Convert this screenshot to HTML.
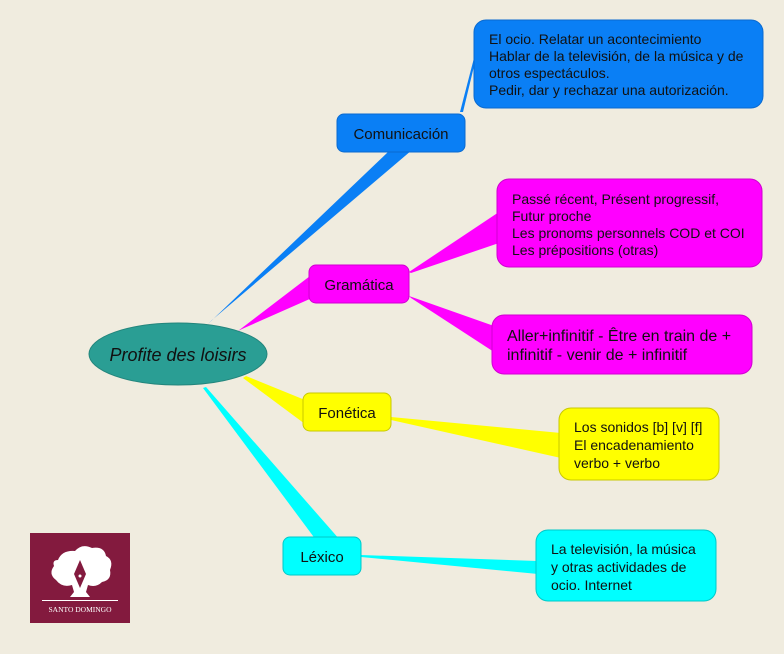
<!DOCTYPE html>
<html><head><meta charset="utf-8"><style>
html,body{margin:0;padding:0;background:#f0ecdf;}
svg{display:block;font-family:"Liberation Sans",sans-serif;}
</style></head><body>
<svg width="784" height="654" viewBox="0 0 784 654" xmlns="http://www.w3.org/2000/svg">
<rect width="784" height="654" fill="#f0ecdf"/>
<!-- connectors -->
<polygon points="208,324 212,320 412,150 388,152" fill="#0a7ff5"/>
<polygon points="460,112 463,112 476,58 474,58" fill="#0a7ff5"/>
<polygon points="238,331 242,329 312,298 310,276" fill="#ff00ff"/>
<polygon points="409,272 411,273 499,243 499,212" fill="#ff00ff"/>
<polygon points="409,296 411,298 494,352 494,326" fill="#ff00ff"/>
<polygon points="243,378 246,376 305,400 305,424" fill="#ffff00"/>
<polygon points="391,417 391,420 561,458 561,433" fill="#ffff00"/>
<polygon points="203,388 206,387 340,540 316,540" fill="#00ffff"/>
<polygon points="361,555 361,557 538,574 538,561" fill="#00ffff"/>
<!-- root -->
<ellipse cx="178" cy="354" rx="89" ry="31" fill="#2a9e94" stroke="#23857c"/>
<text x="178" y="361" text-anchor="middle" font-size="18" font-style="italic" fill="#111">Profite des loisirs</text>
<!-- main nodes -->
<rect x="337" y="114" width="128" height="38" rx="7" fill="#0a7ff5" stroke="#0a6ad0"/>
<text x="401" y="139" text-anchor="middle" font-size="15" fill="#111">Comunicación</text>
<rect x="309" y="265" width="100" height="38" rx="7" fill="#ff00ff" stroke="#d000d0"/>
<text x="359" y="290" text-anchor="middle" font-size="15" fill="#111">Gramática</text>
<rect x="303" y="393" width="88" height="38" rx="7" fill="#ffff00" stroke="#c8c800"/>
<text x="347" y="418" text-anchor="middle" font-size="15" fill="#111">Fonética</text>
<rect x="283" y="537" width="78" height="38" rx="7" fill="#00ffff" stroke="#00c8c8"/>
<text x="322" y="562" text-anchor="middle" font-size="15" fill="#111">Léxico</text>
<!-- leaves -->
<rect x="474" y="20" width="289" height="88" rx="12" fill="#0a7ff5" stroke="#0a6ad0"/>
<g font-size="14" fill="#111">
<text x="489" y="44">El ocio. Relatar un acontecimiento</text>
<text x="489" y="61">Hablar de la televisión, de la música y de</text>
<text x="489" y="78">otros espectáculos.</text>
<text x="489" y="95">Pedir, dar y rechazar una autorización.</text>
</g>
<rect x="497" y="179" width="265" height="88" rx="12" fill="#ff00ff" stroke="#d000d0"/>
<g font-size="14" fill="#111">
<text x="512" y="204">Passé récent, Présent progressif,</text>
<text x="512" y="221">Futur proche</text>
<text x="512" y="238">Les pronoms personnels COD et COI</text>
<text x="512" y="255">Les prépositions (otras)</text>
</g>
<rect x="492" y="315" width="260" height="59" rx="12" fill="#ff00ff" stroke="#d000d0"/>
<g font-size="16" fill="#111">
<text x="507" y="341">Aller+infinitif - Être en train de +</text>
<text x="507" y="360">infinitif - venir de + infinitif</text>
</g>
<rect x="559" y="408" width="160" height="72" rx="12" fill="#ffff00" stroke="#c8c800"/>
<g font-size="14" fill="#111">
<text x="574" y="432">Los sonidos [b] [v] [f]</text>
<text x="574" y="450">El encadenamiento</text>
<text x="574" y="468">verbo + verbo</text>
</g>
<rect x="536" y="530" width="180" height="71" rx="12" fill="#00ffff" stroke="#00c8c8"/>
<g font-size="14" fill="#111">
<text x="551" y="554">La televisión, la música</text>
<text x="551" y="572">y otras actividades de</text>
<text x="551" y="590">ocio. Internet</text>
</g>
<!-- logo -->
<rect x="30" y="533" width="100" height="90" fill="#831a3e"/>
<path d="M58,560 Q62,550 75,551 Q82,543 92,548 Q104,546 106,556 Q114,560 110,570 Q112,580 102,582 Q96,588 88,585 L86,592 L90,597 L70,597 L74,592 L72,585 Q62,588 56,580 Q48,574 54,566 Q52,560 58,560Z" fill="#fff"/>
<path d="M80,560 L74,574 L80,588 L86,574Z" fill="#831a3e"/>
<circle cx="80" cy="576" r="1.5" fill="#fff"/>
<rect x="42" y="600" width="76" height="1" fill="#fff"/>
<text x="80" y="612" text-anchor="middle" font-size="7.5" fill="#fff" font-family="Liberation Serif,serif">SANTO DOMINGO</text>
</svg>
</body></html>
